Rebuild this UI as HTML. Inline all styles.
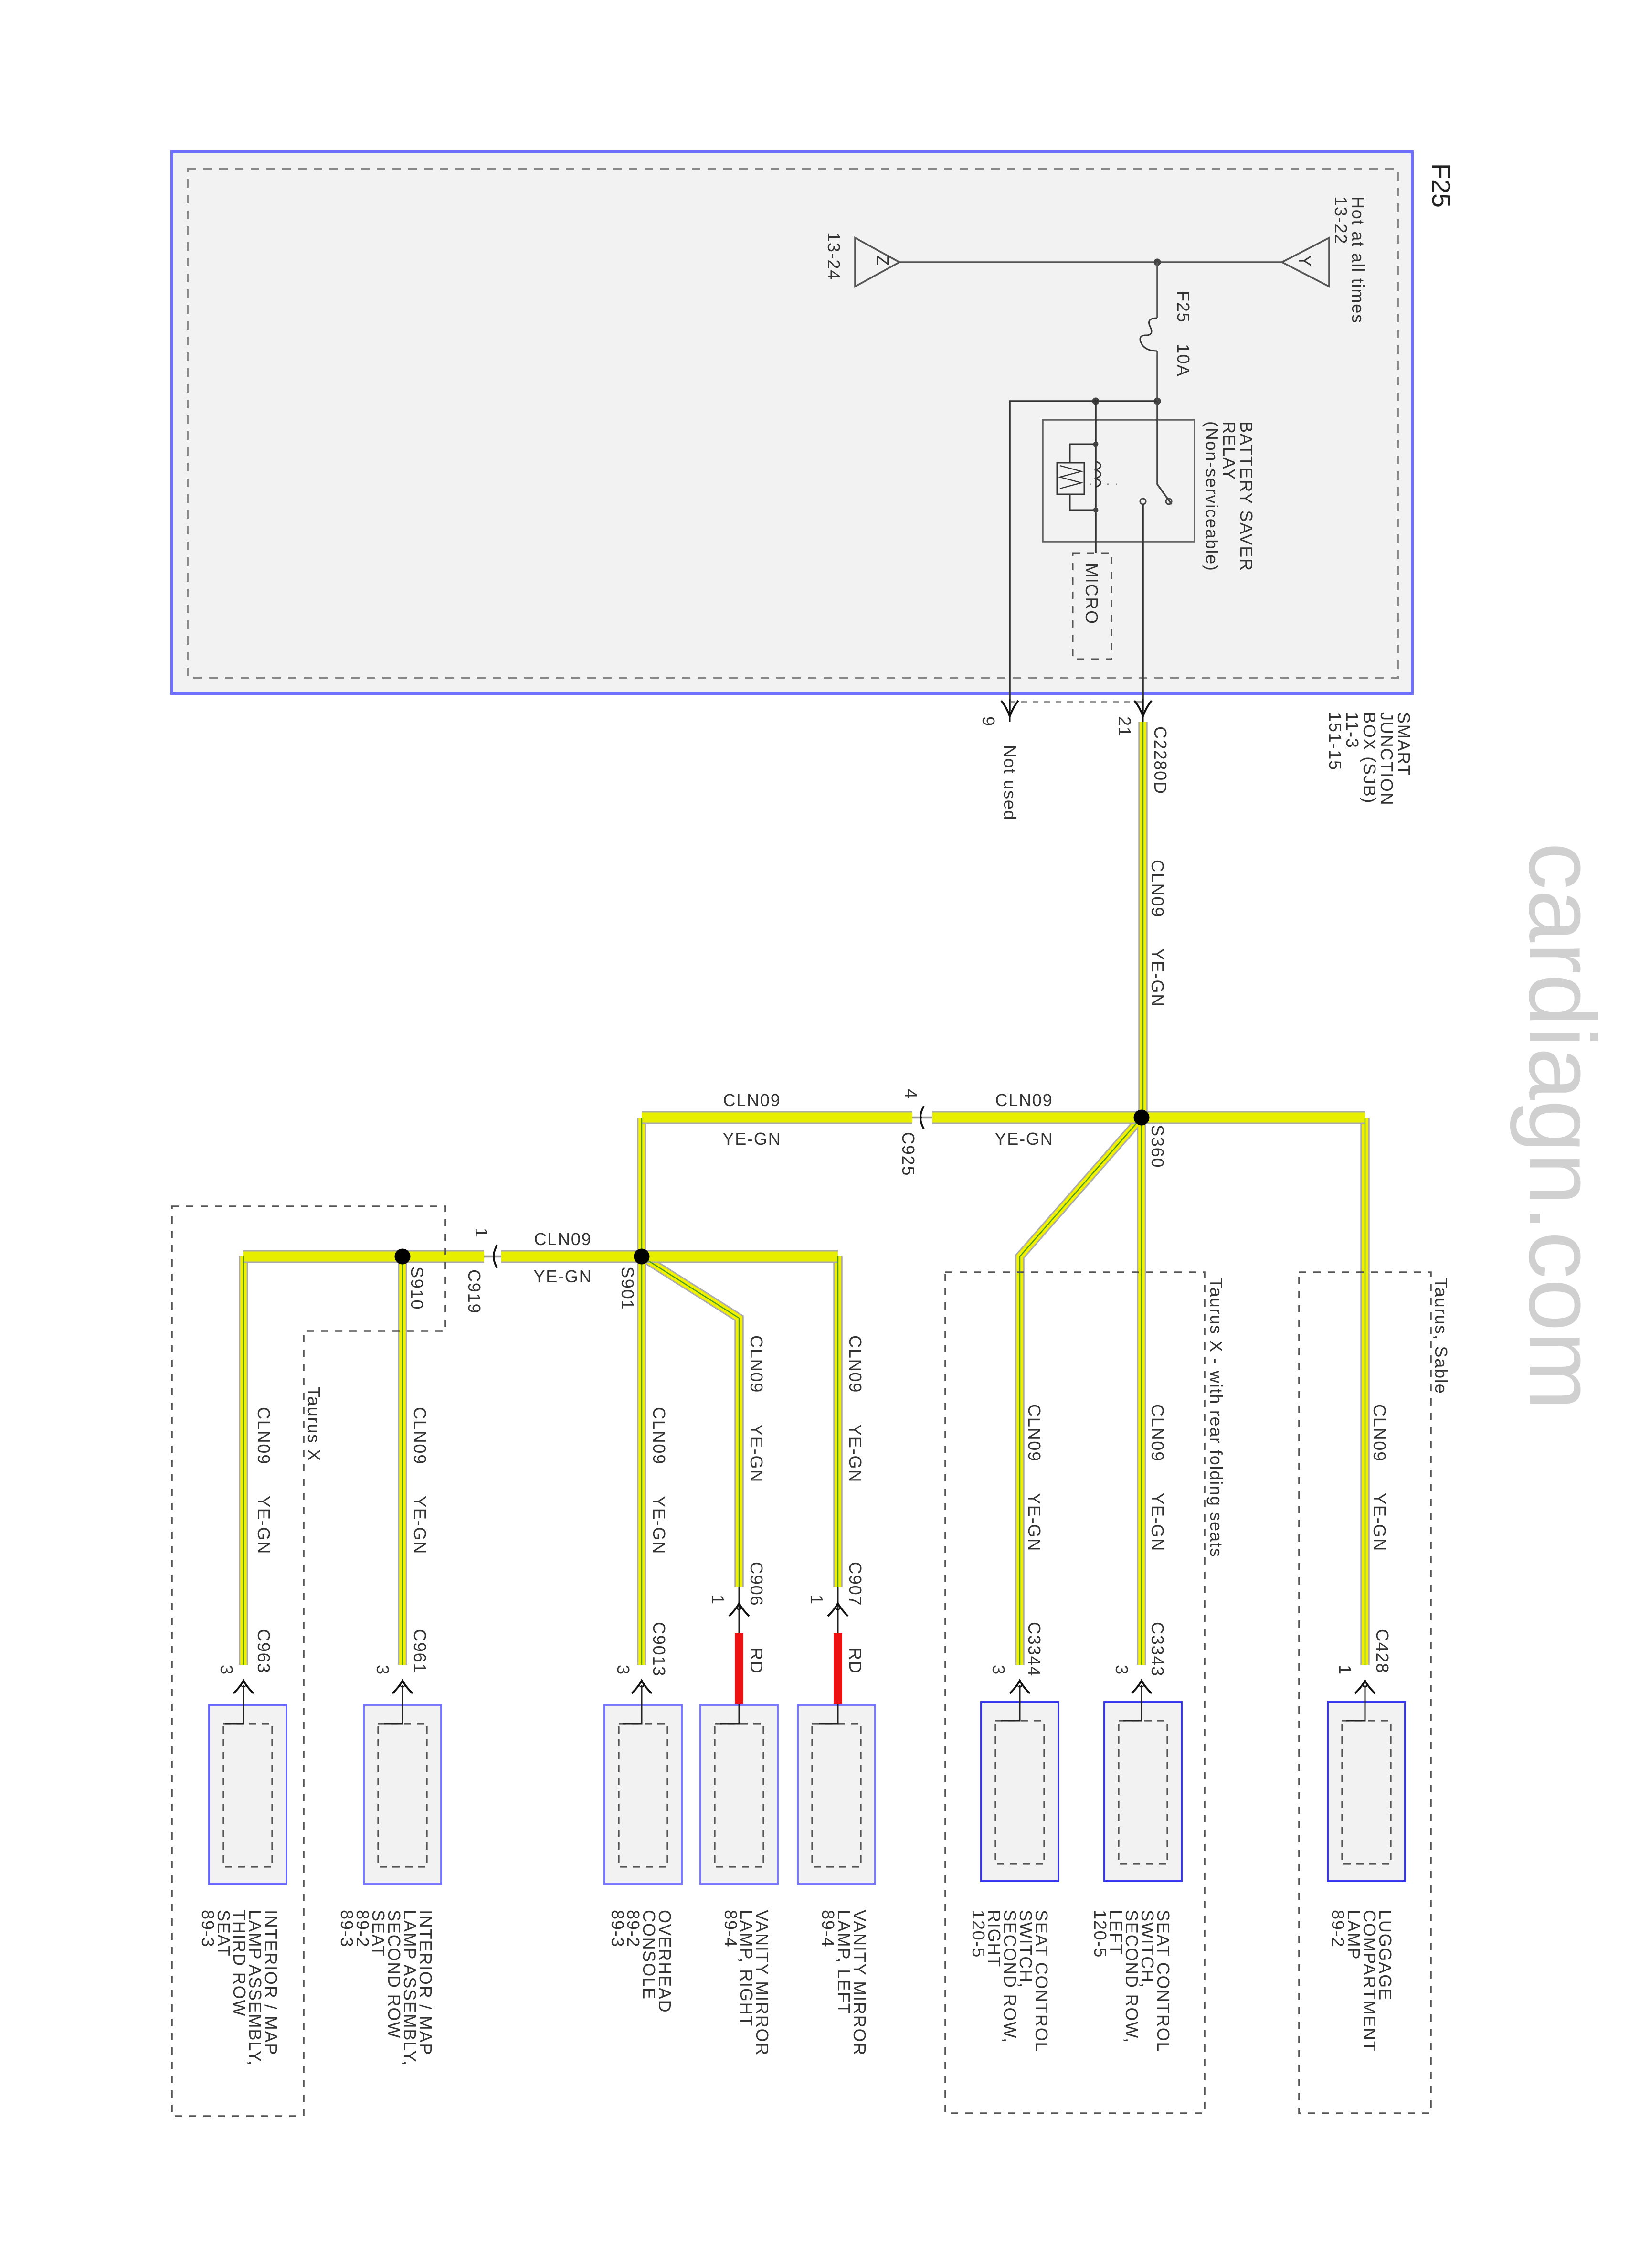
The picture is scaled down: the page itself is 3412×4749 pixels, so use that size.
<!DOCTYPE html>
<html><head><meta charset="utf-8"><style>
html,body{margin:0;padding:0;background:#fff;}
svg{display:block;}
text{font-family:"Liberation Sans",sans-serif;fill:#333;font-size:12px;letter-spacing:0.6px;}
</style></head><body>
<svg width="3412" height="4749" viewBox="0 0 1137.33 1583" xmlns="http://www.w3.org/2000/svg">
<defs>
<g id="cu"><path d="M-7,6 Q-2,1 0,-3 Q2,1 7,6" fill="none" stroke="#111" stroke-width="1.3"/><circle cx="0" cy="0" r="1.5" fill="none" stroke="#111" stroke-width="0.8"/></g>
<g id="cd"><path d="M-6,-7 Q-2,-2 0,4 Q2,-2 6,-7" fill="none" stroke="#111" stroke-width="1.3"/><line x1="0" y1="-8" x2="0" y2="8" stroke="#111" stroke-width="1"/></g>
</defs>

<rect x="120" y="106" width="866" height="378" fill="#f2f2f2" stroke="#7070ff" stroke-width="2"/>
<rect x="131" y="118" width="845" height="355" fill="none" stroke="#888" stroke-width="1.3" stroke-dasharray="6,5"/>
<text transform="translate(1000,114) rotate(90)" style="font-size:18px;letter-spacing:0;fill:#222">F25</text>

<line x1="628" y1="183" x2="895" y2="183" stroke="#555" stroke-width="1.2"/>
<polygon points="895,183 928,166 928,200" fill="none" stroke="#555" stroke-width="1.2"/>
<text transform="translate(907,178) rotate(90)">Y</text>
<polygon points="628,183 597,166 597,200" fill="none" stroke="#555" stroke-width="1.2"/>
<text transform="translate(612,178) rotate(90)">Z</text>
<text transform="translate(944,137) rotate(90)"><tspan x="0" y="0">Hot at all times</tspan><tspan x="0" y="12">13-22</tspan></text>
<text transform="translate(578,162) rotate(90)">13-24</text>
<circle cx="808" cy="183" r="2.5" fill="#444"/>
<path d="M808,183 V222 M808,245 V280" stroke="#555" stroke-width="1.2" fill="none"/>
<path d="M808,222 q-8,0 -5,6 q3,6 -3,6 q-6,0 -3,6 q3,5 11,5" fill="none" stroke="#333" stroke-width="1"/>
<text transform="translate(822,203) rotate(90)">F25</text>
<text transform="translate(822,240) rotate(90)">10A</text>
<circle cx="808" cy="280" r="2.5" fill="#444"/>
<circle cx="765" cy="280" r="2.5" fill="#444"/>
<path d="M808,280 H705 V496" stroke="#333" stroke-width="1.2" fill="none"/>
<rect x="728" y="293" width="106" height="85" fill="none" stroke="#666" stroke-width="1.2"/>
<path d="M808,280 V338 L818,352" stroke="#444" stroke-width="1.2" fill="none"/>
<circle cx="816" cy="350" r="2" fill="none" stroke="#444"/>
<circle cx="798" cy="350" r="2" fill="none" stroke="#444"/>
<line x1="798" y1="352" x2="798" y2="496" stroke="#333" stroke-width="1.2"/>
<line x1="780" y1="338" x2="752" y2="338" stroke="#888" stroke-width="1" stroke-dasharray="1,5"/>
<line x1="765" y1="280" x2="765" y2="386" stroke="#333" stroke-width="1.2"/>
<path d="M765,310 H747 V356 H765" fill="none" stroke="#333" stroke-width="1"/>
<rect x="738" y="323" width="19" height="22" fill="#f2f2f2" stroke="#333" stroke-width="1"/>
<path d="M740,325 L755,329 L740,333 L755,337 L740,341" fill="none" stroke="#333" stroke-width="0.8"/>
<path d="M765,322 q7,3 0,6 q7,3 0,6 q7,3 0,6" fill="none" stroke="#333" stroke-width="1"/>
<circle cx="765" cy="310" r="1.8" fill="#444"/><circle cx="765" cy="356" r="1.8" fill="#444"/>
<rect x="749" y="386" width="27" height="74" fill="none" stroke="#555" stroke-dasharray="5,5"/>
<text transform="translate(758,393) rotate(90)">MICRO</text>
<text transform="translate(866,294) rotate(90)"><tspan x="0" y="0">BATTERY SAVER</tspan><tspan x="0" y="12">RELAY</tspan><tspan x="0" y="24">(Non-serviceable)</tspan></text>

<line x1="705" y1="490" x2="798" y2="490" stroke="#999" stroke-width="1.5" stroke-dasharray="4,4"/>
<use href="#cd" x="705" y="496"/><use href="#cd" x="798" y="496"/>
<text transform="translate(686,500) rotate(90)">9</text>
<text transform="translate(781,500) rotate(90)">21</text>
<text transform="translate(806,507) rotate(90)">C2280D</text>
<text transform="translate(701,520) rotate(90)">Not used</text>
<text transform="translate(976,497) rotate(90)"><tspan x="0" y="0">SMART</tspan><tspan x="0" y="12">JUNCTION</tspan><tspan x="0" y="24">BOX (SJB)</tspan><tspan x="0" y="36">11-3</tspan><tspan x="0" y="48">151-15</tspan></text>

<g fill="none" stroke-linejoin="miter">
<g stroke="#aaa" stroke-width="6.5">
<path d="M798,504 V780"/>
<path d="M797,780 V1162"/><path d="M953,780 V1162"/><path d="M797,780 L712,877 V1162"/>
<path d="M448,780 V1162"/><path d="M585,877 V1108"/><path d="M448,877 L516,920 V1108"/>
<path d="M281,877 V1162"/><path d="M170,1162 V877"/>
</g>
<g stroke="#f0f000" stroke-width="4.5">
<path d="M798,504 V780"/>
<path d="M797,780 V1162"/><path d="M953,780 V1162"/><path d="M797,780 L712,877 V1162"/>
<path d="M448,780 V1162"/><path d="M585,877 V1108"/><path d="M448,877 L516,920 V1108"/>
<path d="M281,877 V1162"/><path d="M170,1162 V877"/>
</g>
<g stroke="#aaa" stroke-width="9">
<path d="M953,780 H651"/><path d="M637,780 H448"/>
<path d="M448,877 H585"/><path d="M448,877 H350"/><path d="M338,877 H170"/>
</g>
<g stroke="#e8ee00" stroke-width="7">
<path d="M953,780 H651"/><path d="M637,780 H448"/>
<path d="M448,877 H585"/><path d="M448,877 H350"/><path d="M338,877 H170"/>
</g>
<g stroke="#4a9a2a" stroke-width="0.8">
<path d="M798,504 V780"/>
<path d="M797,780 V1162"/><path d="M953,780 V1162"/><path d="M797,780 L712,877 V1162"/>
<path d="M448,780 V1162"/><path d="M585,877 V1108"/><path d="M448,877 L516,920 V1108"/>
<path d="M281,877 V1162"/><path d="M170,1162 V877"/>
</g>
<path d="M585,1140 V1189 M516,1140 V1189" stroke="#ee1111" stroke-width="6"/>
<path d="M585,1108 V1140 M516,1108 V1140" stroke="#222" stroke-width="1"/>
<path d="M651,780 H637 M350,877 H338" stroke="#999" stroke-width="1.5"/>
</g>
<g fill="none" stroke="#111" stroke-width="1.3">
<path d="M645,772 Q642,778 643,780 Q642,782 645,788"/>
<path d="M347,869 Q344,875 345,877 Q344,879 347,885"/>
</g>
<circle cx="797" cy="780" r="5.5" fill="#000"/>
<circle cx="448" cy="877" r="5.5" fill="#000"/>
<circle cx="281" cy="877" r="5.5" fill="#000"/>

<g>
<text transform="translate(804,600) rotate(90)">CLN09</text><text transform="translate(804,662) rotate(90)">YE-GN</text>
<text x="715" y="772" text-anchor="middle">CLN09</text><text x="715" y="799" text-anchor="middle">YE-GN</text>
<text x="525" y="772" text-anchor="middle">CLN09</text><text x="525" y="799" text-anchor="middle">YE-GN</text>
<text x="393" y="869" text-anchor="middle">CLN09</text><text x="393" y="895" text-anchor="middle">YE-GN</text>
<text transform="translate(804,785) rotate(90)">S360</text>
<text transform="translate(632,760) rotate(90)">4</text>
<text transform="translate(630,790) rotate(90)">C925</text>
<text transform="translate(434,884) rotate(90)">S901</text>
<text transform="translate(287,884) rotate(90)">S910</text>
<text transform="translate(332,857) rotate(90)">1</text>
<text transform="translate(327,886) rotate(90)">C919</text>
<text transform="translate(959,980) rotate(90)">CLN09</text><text transform="translate(959,1042) rotate(90)">YE-GN</text>
<text transform="translate(804,980) rotate(90)">CLN09</text><text transform="translate(804,1042) rotate(90)">YE-GN</text>
<text transform="translate(718,980) rotate(90)">CLN09</text><text transform="translate(718,1042) rotate(90)">YE-GN</text>
<text transform="translate(593,932) rotate(90)">CLN09</text><text transform="translate(593,994) rotate(90)">YE-GN</text>
<text transform="translate(524,932) rotate(90)">CLN09</text><text transform="translate(524,994) rotate(90)">YE-GN</text>
<text transform="translate(456,982) rotate(90)">CLN09</text><text transform="translate(456,1044) rotate(90)">YE-GN</text>
<text transform="translate(289,982) rotate(90)">CLN09</text><text transform="translate(289,1044) rotate(90)">YE-GN</text>
<text transform="translate(180,982) rotate(90)">CLN09</text><text transform="translate(180,1044) rotate(90)">YE-GN</text>
<text transform="translate(593,1150) rotate(90)">RD</text><text transform="translate(524,1150) rotate(90)">RD</text>
<text transform="translate(961,1137) rotate(90)">C428</text><text transform="translate(935,1162) rotate(90)">1</text>
<text transform="translate(804,1132) rotate(90)">C3343</text><text transform="translate(779,1162) rotate(90)">3</text>
<text transform="translate(718,1132) rotate(90)">C3344</text><text transform="translate(693,1162) rotate(90)">3</text>
<text transform="translate(593,1090) rotate(90)">C907</text><text transform="translate(566,1113) rotate(90)">1</text>
<text transform="translate(524,1090) rotate(90)">C906</text><text transform="translate(497,1113) rotate(90)">1</text>
<text transform="translate(456,1132) rotate(90)">C9013</text><text transform="translate(431,1162) rotate(90)">3</text>
<text transform="translate(289,1137) rotate(90)">C961</text><text transform="translate(263,1162) rotate(90)">3</text>
<text transform="translate(180,1137) rotate(90)">C963</text><text transform="translate(154,1162) rotate(90)">3</text>
</g>

<use href="#cu" x="953" y="1176"/><use href="#cu" x="797" y="1176"/><use href="#cu" x="712" y="1176"/>
<use href="#cu" x="585" y="1122"/><use href="#cu" x="516" y="1122"/><use href="#cu" x="448" y="1176"/>
<use href="#cu" x="281" y="1176"/><use href="#cu" x="170" y="1176"/>

<g stroke-width="1.3">
<rect x="927" y="1188" width="54" height="125" fill="#f2f2f2" stroke="#3333ee"/>
<rect x="771" y="1188" width="54" height="125" fill="#f2f2f2" stroke="#3333ee"/>
<rect x="685" y="1188" width="54" height="125" fill="#f2f2f2" stroke="#3333ee"/>
<rect x="557" y="1190" width="54" height="125" fill="#f2f2f2" stroke="#7777ff"/>
<rect x="489" y="1190" width="54" height="125" fill="#f2f2f2" stroke="#7777ff"/>
<rect x="422" y="1190" width="54" height="125" fill="#f2f2f2" stroke="#7777ff"/>
<rect x="254" y="1190" width="54" height="125" fill="#f2f2f2" stroke="#7777ff"/>
<rect x="146" y="1190" width="54" height="125" fill="#f2f2f2" stroke="#6666ff"/>
</g>
<g fill="none" stroke="#555" stroke-width="1.1" stroke-dasharray="5,4">
<rect x="937" y="1201" width="34" height="100"/>
<rect x="781" y="1201" width="34" height="100"/>
<rect x="695" y="1201" width="34" height="100"/>
<rect x="567" y="1203" width="34" height="100"/>
<rect x="499" y="1203" width="34" height="100"/>
<rect x="432" y="1203" width="34" height="100"/>
<rect x="264" y="1203" width="34" height="100"/>
<rect x="156" y="1203" width="34" height="100"/>
</g>
<g stroke="#222" stroke-width="1" fill="none">
<path d="M953,1176 V1201 H940"/><path d="M797,1176 V1201 H784"/><path d="M712,1176 V1201 H699"/>
<path d="M585,1189 V1203 H572"/><path d="M516,1189 V1203 H503"/><path d="M448,1176 V1203 H435"/>
<path d="M281,1176 V1203 H268"/><path d="M170,1176 V1203 H157"/>
</g>

<g>
<text transform="translate(963,1333) rotate(90)"><tspan x="0" y="0">LUGGAGE</tspan><tspan x="0" y="11">COMPARTMENT</tspan><tspan x="0" y="22">LAMP</tspan><tspan x="0" y="33">89-2</tspan></text>
<text transform="translate(808,1333) rotate(90)"><tspan x="0" y="0">SEAT CONTROL</tspan><tspan x="0" y="11">SWITCH,</tspan><tspan x="0" y="22">SECOND ROW,</tspan><tspan x="0" y="33">LEFT</tspan><tspan x="0" y="44">120-5</tspan></text>
<text transform="translate(723,1333) rotate(90)"><tspan x="0" y="0">SEAT CONTROL</tspan><tspan x="0" y="11">SWITCH,</tspan><tspan x="0" y="22">SECOND ROW,</tspan><tspan x="0" y="33">RIGHT</tspan><tspan x="0" y="44">120-5</tspan></text>
<text transform="translate(596,1333) rotate(90)"><tspan x="0" y="0">VANITY MIRROR</tspan><tspan x="0" y="11">LAMP, LEFT</tspan><tspan x="0" y="22">89-4</tspan></text>
<text transform="translate(528,1333) rotate(90)"><tspan x="0" y="0">VANITY MIRROR</tspan><tspan x="0" y="11">LAMP, RIGHT</tspan><tspan x="0" y="22">89-4</tspan></text>
<text transform="translate(460,1333) rotate(90)"><tspan x="0" y="0">OVERHEAD</tspan><tspan x="0" y="11">CONSOLE</tspan><tspan x="0" y="22">89-2</tspan><tspan x="0" y="33">89-3</tspan></text>
<text transform="translate(293,1333) rotate(90)"><tspan x="0" y="0">INTERIOR / MAP</tspan><tspan x="0" y="11">LAMP ASSEMBLY,</tspan><tspan x="0" y="22">SECOND ROW</tspan><tspan x="0" y="33">SEAT</tspan><tspan x="0" y="44">89-2</tspan><tspan x="0" y="55">89-3</tspan></text>
<text transform="translate(185,1333) rotate(90)"><tspan x="0" y="0">INTERIOR / MAP</tspan><tspan x="0" y="11">LAMP ASSEMBLY,</tspan><tspan x="0" y="22">THIRD ROW</tspan><tspan x="0" y="33">SEAT</tspan><tspan x="0" y="44">89-3</tspan></text>
<text transform="translate(1002,892) rotate(90)">Taurus, Sable</text>
<text transform="translate(845,892) rotate(90)">Taurus X - with rear folding seats</text>
<text transform="translate(215,968) rotate(90)">Taurus X</text>
</g>

<g fill="none" stroke="#555" stroke-width="1.2" stroke-dasharray="5,5">
<rect x="907" y="888" width="92" height="587"/>
<rect x="660" y="888" width="181" height="587"/>
<path d="M120,842 H311 V929 H212 V1477 H120 Z"/>
</g>

<text transform="translate(1068,588) rotate(90)" style="font-size:66px;letter-spacing:0;fill:#d0d0d0">cardiagn.com</text>
</svg>
</body></html>
